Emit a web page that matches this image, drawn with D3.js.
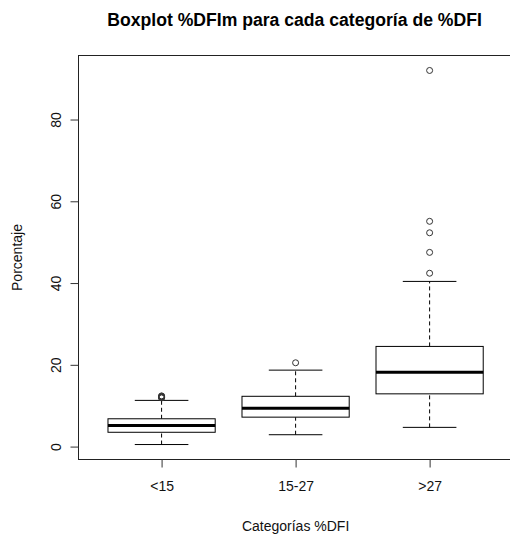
<!DOCTYPE html>
<html>
<head>
<meta charset="utf-8">
<script src="https://cdn.jsdelivr.net/npm/d3@7"></script>
<style>
  html, body { margin: 0; padding: 0; background: #fff; }
  svg { display: block; font-family: "Liberation Sans", Arial, sans-serif; }
</style>
</head>
<body>
<svg id="chart" width="510" height="538"></svg>
<script>
// Categories and five-number summaries per group
const categories = ["<15", "15-27", ">27"];
const whiskerLow  = [0.5, 2.9, 4.7];
const q1          = [3.5, 7.2, 12.9];
const median      = [5.15, 9.4, 18.2];
const q3          = [6.8, 12.3, 24.5];
const whiskerHigh = [11.3, 18.7, 40.4];
const outliers    = [
  [11.9, 12.0, 12.1, 12.2, 12.3, 12.4],
  [20.5],
  [42.4, 47.5, 52.3, 55.1, 92.0]
];
const yTicks = [0, 20, 40, 60, 80];

const titleText = "Boxplot %DFIm para cada categoría de %DFI";
const xTitle = "Categorías %DFI";
const yTitle = "Porcentaje";

const svg = d3.select("#chart");
const plot = { left: 78.5, right: 512.7, top: 55.5, bottom: 459.5 };

// Value extent with 4% padding on each side
const allVals = whiskerLow.concat(whiskerHigh, outliers.flat());
const vmin = d3.min(allVals), vmax = d3.max(allVals);
const pad = (vmax - vmin) * 0.04;
const y = d3.scaleLinear().domain([vmin - pad, vmax + pad]).range([plot.bottom, plot.top]);

// Group positions 1..n, range 0.5..n+0.5 padded by 4%
const n = categories.length;
const xpad = n * 0.04;
const x = d3.scaleLinear().domain([0.5 - xpad, n + 0.5 + xpad]).range([plot.left, plot.right]);
const halfBox = 0.4, halfStaple = 0.2;

const groups = categories.map((c, i) => ({
  cat: c, pos: i + 1,
  lo: whiskerLow[i], q1: q1[i], med: median[i], q3: q3[i], hi: whiskerHigh[i], out: outliers[i]
}));

const g = svg.append("g");

// Whiskers (dashed)
g.selectAll(".wl").data(groups).join("line")
  .attr("x1", d => x(d.pos)).attr("x2", d => x(d.pos))
  .attr("y1", d => y(d.lo)).attr("y2", d => y(d.q1))
  .attr("stroke", "#000").attr("stroke-width", 1).attr("stroke-dasharray", "4,3");
g.selectAll(".wh").data(groups).join("line")
  .attr("x1", d => x(d.pos)).attr("x2", d => x(d.pos))
  .attr("y1", d => y(d.q3)).attr("y2", d => y(d.hi))
  .attr("stroke", "#000").attr("stroke-width", 1).attr("stroke-dasharray", "4,3");

// Staples
["lo", "hi"].forEach(k => {
  g.selectAll(".st" + k).data(groups).join("line")
    .attr("x1", d => x(d.pos - halfStaple)).attr("x2", d => x(d.pos + halfStaple))
    .attr("y1", d => y(d[k])).attr("y2", d => y(d[k]))
    .attr("stroke", "#000").attr("stroke-width", 1);
});

// Boxes
g.selectAll(".box").data(groups).join("rect")
  .attr("x", d => x(d.pos - halfBox))
  .attr("width", d => x(d.pos + halfBox) - x(d.pos - halfBox))
  .attr("y", d => y(d.q3))
  .attr("height", d => y(d.q1) - y(d.q3))
  .attr("fill", "#fff").attr("stroke", "#000").attr("stroke-width", 1);

// Medians
g.selectAll(".med").data(groups).join("line")
  .attr("x1", d => x(d.pos - halfBox)).attr("x2", d => x(d.pos + halfBox))
  .attr("y1", d => y(d.med)).attr("y2", d => y(d.med))
  .attr("stroke", "#000").attr("stroke-width", 3);

// Outliers
groups.forEach(d => {
  g.selectAll(null).data(d.out).join("circle")
    .attr("cx", x(d.pos)).attr("cy", v => y(v)).attr("r", 3)
    .attr("fill", "none").attr("stroke", "#333").attr("stroke-width", 1);
});

// Plot frame
svg.append("rect")
  .attr("x", plot.left).attr("y", plot.top)
  .attr("width", plot.right - plot.left).attr("height", plot.bottom - plot.top)
  .attr("fill", "none").attr("stroke", "#222").attr("stroke-width", 1);

// Y axis
const yAxis = d3.axisLeft(y).tickValues(yTicks).tickSize(8).tickPadding(0);
const ya = svg.append("g").attr("transform", `translate(${plot.left},0)`).call(yAxis);
ya.select(".domain").remove();
ya.selectAll(".tick line").attr("stroke", "#333");
ya.selectAll(".tick text").remove();
ya.selectAll(".tick").append("text")
  .attr("transform", "translate(-22,0) rotate(-90)")
  .attr("text-anchor", "middle").attr("dy", "0.35em")
  .attr("fill", "#111").style("font-size", "14px")
  .text(d => d);

// X axis
const xAxis = d3.axisBottom(x).tickValues(groups.map(d => d.pos)).tickFormat((d, i) => categories[i]).tickSize(8).tickPadding(14);
const xa = svg.append("g").attr("transform", `translate(0,${plot.bottom})`).call(xAxis);
xa.select(".domain").remove();
xa.selectAll(".tick line").attr("stroke", "#333");
xa.selectAll(".tick text").attr("fill", "#111").style("font-size", "14px");

// Titles
svg.append("text")
  .attr("x", (plot.left + plot.right) / 2 - 1).attr("y", 26)
  .attr("text-anchor", "middle").style("font-size", "17.6px").style("font-weight", "bold")
  .attr("fill", "#000").text(titleText);

svg.append("text")
  .attr("x", (plot.left + plot.right) / 2).attr("y", 531)
  .attr("text-anchor", "middle").style("font-size", "14px")
  .attr("fill", "#111").text(xTitle);

svg.append("text")
  .attr("transform", `translate(22,${(plot.top + plot.bottom) / 2}) rotate(-90)`)
  .attr("text-anchor", "middle").style("font-size", "14px")
  .attr("fill", "#111").text(yTitle);
</script>
</body>
</html>
